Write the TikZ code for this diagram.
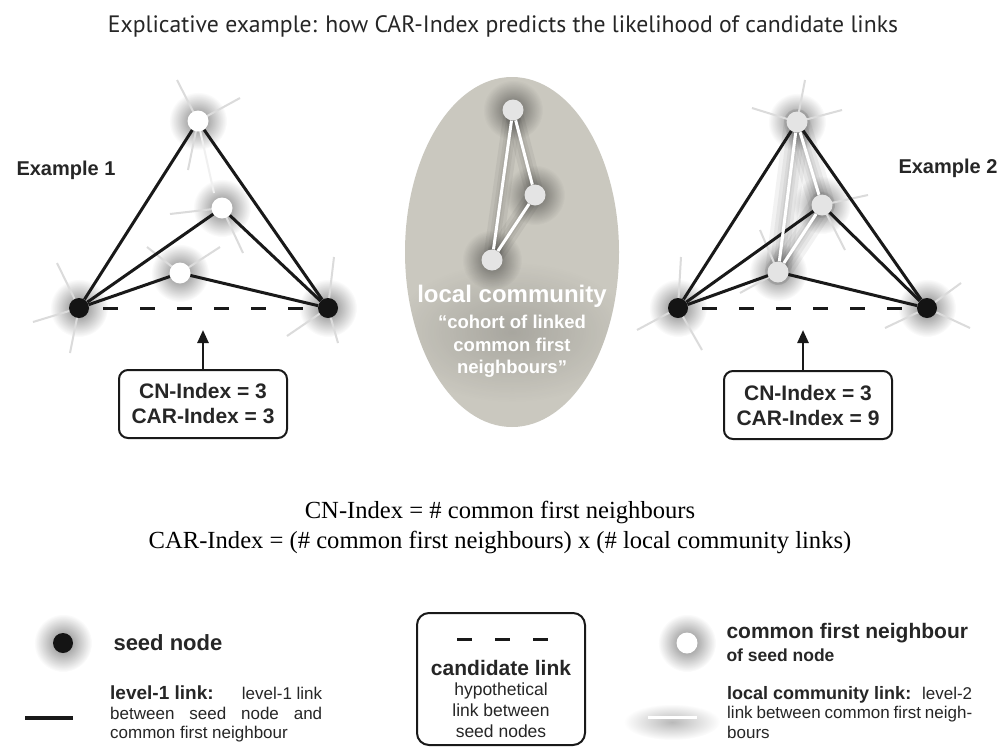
\documentclass[tikz,border=0pt]{standalone}
\usepackage{fontspec}
\setmainfont{Liberation Sans}
\newfontfamily\titlefont{PT Sans}
\newfontfamily\formfont{Liberation Serif}
\usetikzlibrary{fadings,arrows.meta}
\tikzfading[name=halofade, inner color=transparent!45, outer color=transparent!100]
\definecolor{ellcol}{RGB}{202,200,191}
\definecolor{cfngray}{RGB}{228,228,228}
\newcommand{\halo}[2][29]{\fill[black, path fading=halofade, opacity=0.9] (#2) circle (#1);}
\newcommand{\fs}[2]{\fontsize{#1}{#2}\selectfont}
\begin{document}
\begin{tikzpicture}[x=1pt,y=-1pt,
  seed/.style={circle, fill=black!92, minimum size=20pt, inner sep=0pt},
  cfn/.style={circle, fill=white, minimum size=21pt, inner sep=0pt},
  cfnb/.style={circle, fill=cfngray, minimum size=21pt, inner sep=0pt},
  lone/.style={line width=3pt, black!90},
  lcom/.style={line width=3pt, white},
  lshadow/.style={line width=#1, black, opacity=0.05, line cap=round},
  whisk/.style={line width=2pt, black!14},
  cand/.style={line width=3pt, black!90, dash pattern=on 15pt off 22pt},
  idxbox/.style={draw=black!90, line width=2pt, rounded corners=9pt, fill=white,
     minimum width=168pt, minimum height=68pt, align=center, inner sep=2pt,
     font=\bfseries\fs{21}{25}, text=black!85},
  uparrow/.style={line width=2.5pt, black!90, -{Triangle[length=13pt,width=11pt]}},
  extitle/.style={font=\bfseries\fs{20}{24}, text=black!85},
  lgbold/.style={font=\bfseries\fs{21}{24}, text=black!85, anchor=west},
  lgtext/.style={font=\fs{17}{19.5}, text=black!85, anchor=north west, align=left, inner sep=0pt},
  formula/.style={font=\formfont\fs{24.6}{28}, text=black}
]
\useasboundingbox (0,0) rectangle (1003,750);
\fill[white] (0,0) rectangle (1003,750);

% title
\node[font=\titlefont\fs{23.7}{27}, text=black!85] (title) at (503,26)
  {Explicative example: how CAR-Index predicts the likelihood of candidate links};

% ---------------- Example 1 ----------------
\coordinate (As) at (79,308);
\coordinate (At) at (328,308);
\coordinate (A1) at (198,121);
\coordinate (A2) at (222,208);
\coordinate (A3) at (180,273);
\foreach \p in {As,At,A1,A2,A3} {\halo{\p}}
% whiskers
\draw[whisk] (A1) -- (177,80);
\draw[whisk] (A1) -- (240,98);
\draw[whisk] (A1) -- (188,170);
\draw[whisk, black!6] (A1) -- (214,193);
\draw[whisk] (A2) -- (170,214);
\draw[whisk] (A2) -- (243,253);
\draw[whisk] (A3) -- (147,247);
\draw[whisk] (A3) -- (220,247);
\draw[whisk] (As) -- (57,263);
\draw[whisk] (As) -- (33,322);
\draw[whisk] (As) -- (70,353);
\draw[whisk] (At) -- (334,257);
\draw[whisk] (At) -- (287,336);
\draw[whisk] (At) -- (338,343);
\node[seed] (a0) at (As) {};
\node[seed] (b0) at (At) {};
\node[cfn] (a1) at (A1) {};
\node[cfn] (a2) at (A2) {};
\node[cfn] (a3) at (A3) {};
\foreach \n in {a1,a2,a3} {\draw[lone] (a0) -- (\n); \draw[lone] (b0) -- (\n);}
\draw[cand, shorten <=14pt, shorten >=14pt] (a0) -- (b0);
\node[extitle, anchor=west] (ex1) at (13,170) {Example 1};
\node[idxbox] (box1) at (203,404) {CN-Index = 3\\CAR-Index = 3};
\coordinate (tip1) at (203,330);
\draw[uparrow] (box1.north) -- (tip1);

% ---------------- Example 2 ----------------
\coordinate (Bs) at (678,308);
\coordinate (Bt) at (927,308);
\coordinate (B1) at (797,122);
\coordinate (B2) at (822,205);
\coordinate (B3) at (778,272);
\foreach \p in {Bs,Bt,B1,B2,B3} {\halo{\p}}
\foreach \u/\v in {B1/B3,B1/B2,B2/B3} {\foreach \w in {26pt,18pt,11pt,6pt} {\draw[lshadow=\w] (\u) -- (\v);}}
\draw[whisk] (B1) -- (805,80);
\draw[whisk] (B1) -- (752,108);
\draw[whisk] (B1) -- (842,110);
\draw[whisk] (B2) -- (868,195);
\draw[whisk] (B2) -- (845,250);
\draw[whisk] (B3) -- (760,230);
\draw[whisk] (B3) -- (740,293);
\draw[whisk] (Bs) -- (681,257);
\draw[whisk] (Bs) -- (637,330);
\draw[whisk] (Bs) -- (702,350);
\draw[whisk] (Bt) -- (961,283);
\draw[whisk] (Bt) -- (885,328);
\draw[whisk] (Bt) -- (970,328);
\node[seed] (c0) at (Bs) {};
\node[seed] (d0) at (Bt) {};
\node[cfnb] (c1) at (B1) {};
\node[cfnb] (c2) at (B2) {};
\node[cfnb] (c3) at (B3) {};
\foreach \n in {c1,c2,c3} {\draw[lone] (c0) -- (\n); \draw[lone] (d0) -- (\n);}
\draw[lcom] (c1) -- (c3);
\draw[lcom] (c1) -- (c2);
\draw[lcom] (c2) -- (c3);
\draw[cand, shorten <=14pt, shorten >=14pt] (c0) -- (d0);
\node[extitle, anchor=east] (ex2) at (1001,168) {Example 2};
\node[idxbox] (box2) at (808,405) {CN-Index = 3\\CAR-Index = 9};
\coordinate (tip2) at (803,330);
\draw[uparrow] (box2.north -| tip2) -- (tip2);

% ---------------- local community ----------------
\fill[ellcol] (512,252) ellipse (107 and 175);
\begin{scope}
\clip (512,252) ellipse (107 and 175);
\fill[black, path fading=halofade, opacity=0.3] (512,332) ellipse (120 and 70);
\end{scope}
\coordinate (C1) at (513,110);
\coordinate (C2) at (535,195);
\coordinate (C3) at (492,260);
\foreach \p in {C1,C2,C3} {\halo[30]{\p}}
\foreach \u/\v in {C1/C3,C1/C2,C2/C3} {\foreach \w in {18pt,11pt,6pt} {\draw[lshadow=\w] (\u) -- (\v);}}
\node[cfnb] (e1) at (C1) {};
\node[cfnb] (e2) at (C2) {};
\node[cfnb] (e3) at (C3) {};
\draw[lcom] (e1) -- (e3);
\draw[lcom] (e1) -- (e2);
\draw[lcom] (e2) -- (e3);
\node[font=\bfseries\fs{24}{28}, text=white] (lc) at (512,296) {local community};
\node[font=\bfseries\fs{18.5}{22.5}, text=white, align=center, anchor=north] (lcd) at (512,312)
  {``cohort of linked\\common first\\neighbours''};

% ---------------- formulas ----------------
\node[formula] (f1) at (500,512) {CN-Index = \# common first neighbours};
\node[formula] (f2) at (500,542) {CAR-Index = (\# common first neighbours) x (\# local community links)};

% ---------------- legend ----------------
\coordinate (L1) at (63,643);
\halo{L1}
\node[seed] (lseed) at (L1) {};
\node[lgbold, font=\bfseries\fs{22}{24}] (lseedt) at (110,643) {seed node};

\coordinate (L2a) at (25,718);
\coordinate (L2b) at (73,718);
\draw[line width=4pt, black!90] (L2a) -- (L2b);
\node[lgtext] (l1t) at (110,686) {\makebox[212pt][s]{\bfseries\fs{19}{19.5}level-1 link:\hfill\mdseries\fs{17}{19.5}level-1 link}\\
  \makebox[212pt][s]{between seed node and}\\common first neighbour};

\node[draw=black!90, line width=2pt, rounded corners=12pt, minimum width=168pt, minimum height=132pt] (cbox) at (501,679) {};
\coordinate (D1) at (457,639);
\coordinate (D2) at (548,639);
\draw[line width=3pt, black!90, dash pattern=on 15pt off 23pt] (D1) -- (D2);
\node[font=\bfseries\fs{21}{24}, text=black!85] (ct) at (501,668) {candidate link};
\node[font=\fs{17.5}{21}, text=black!85, align=center, anchor=north] (cd) at (501,679) {hypothetical\\link between\\seed nodes};

\coordinate (L3) at (687,643);
\halo{L3}
\node[cfn] (lcfn) at (L3) {};
\node[lgbold] (lcfnt) at (723,633) {common first neighbour};
\node[lgbold, font=\bfseries\fs{17.5}{20}] (lcfnt2) at (723,655) {of seed node};

\coordinate (L4a) at (648,717);
\coordinate (L4b) at (697,717);
\fill[black, path fading=halofade, opacity=0.5] (672,722) ellipse (48 and 18);
\draw[line width=3pt, white] (L4a) -- (L4b);
\node[lgtext] (l2t) at (727,686) {\makebox[245pt][s]{\bfseries\fs{18}{19.5}local community link:\hfill\mdseries\fs{17}{19.5} level-2}\\
  \makebox[245pt][s]{link between common first neigh-}\\bours};
\end{tikzpicture}
\end{document}
